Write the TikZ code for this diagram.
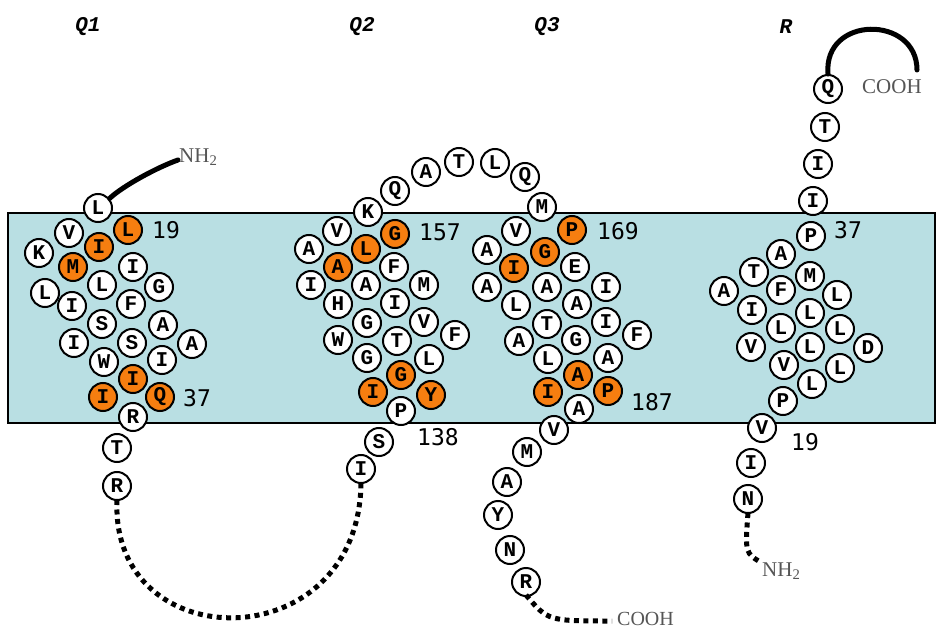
\documentclass[tikz,border=0pt]{standalone}
\usepackage{fontspec}
\newfontfamily\resfont{Liberation Mono}
\newfontfamily\numfont{DejaVu Sans Mono}
\newfontfamily\termfont{Liberation Serif}
\definecolor{membrane}{RGB}{185,223,227}
\definecolor{hilite}{RGB}{246,126,16}
\definecolor{termgray}{RGB}{85,85,85}
\tikzset{
  wres/.style={circle, draw=black, line width=2pt, fill=white, inner sep=0pt,
    minimum size=28pt, font=\resfont\bfseries\fontsize{21}{21}\selectfont},
  ores/.style={wres, fill=hilite},
  posnum/.style={font=\numfont\fontsize{23}{23}\selectfont, inner sep=0pt},
  helixname/.style={font=\resfont\bfseries\itshape\fontsize{21}{21}\selectfont, inner sep=0pt},
  termlabel/.style={font=\termfont\fontsize{21}{21}\selectfont, text=termgray, inner sep=0pt},
  tail/.style={line width=5pt, line cap=round},
  looseend/.style={line width=5pt, dash pattern=on 5pt off 4.5pt}
}
\begin{document}
\begin{tikzpicture}[x=1pt,y=-1pt]
\useasboundingbox (0,0) rectangle (937,631);
% lipid bilayer
\draw[fill=membrane, line width=2pt] (8,213) rectangle (935,423);

% helix names
\node[helixname] (nq1) at (88,27) {Q1};
\node[helixname] (nq2) at (362,27) {Q2};
\node[helixname] (nq3) at (547,27) {Q3};
\node[helixname] (nr) at (786,27) {R};

% subunit Q1
\foreach \x/\y/\t/\s [count=\i] in {
  98/208/L/wres, 128/230/L/ores, 69/233/V/wres, 99/247/I/ores, 39/253/K/wres,
  73/267/M/ores, 133/267/I/wres, 102/285/L/wres, 159/287/G/wres, 45/293/L/wres,
  72/306/I/wres, 131/304/F/wres, 102/324/S/wres, 163/325/A/wres, 132/343/S/wres,
  74/343/I/wres, 192/344/A/wres, 104/362/W/wres, 162/360/I/wres, 133/379/I/ores,
  103/397/I/ores, 160/397/Q/ores, 133/417/R/wres, 117/448/T/wres, 117/486/R/wres}
  \node[style=\s] (qa\i) at (\x,\y) {\t};

% subunit Q2 with the loop to Q3
\foreach \x/\y/\t/\s [count=\i] in {
  361/469/I/wres, 379/442/S/wres, 401/411/P/wres, 373/392/I/ores, 431/395/Y/ores,
  401/375/G/ores, 367/358/G/wres, 429/359/L/wres, 397/341/T/wres, 338/340/W/wres,
  455/335/F/wres, 367/323/G/wres, 424/322/V/wres, 338/304/H/wres, 395/303/I/wres,
  311/285/I/wres, 366/285/A/wres, 424/285/M/wres, 338/267/A/ores, 394/267/F/wres,
  309/249/A/wres, 366/249/L/ores, 337/231/V/wres, 395/234/G/ores, 368/212/K/wres,
  395/191/Q/wres, 426/172/A/wres, 459/162/T/wres, 495/163/L/wres, 525/177/Q/wres,
  542/207/M/wres}
  \node[style=\s] (qb\i) at (\x,\y) {\t};

% subunit Q3
\foreach \x/\y/\t/\s [count=\i] in {
  516/231/V/wres, 572/230/P/ores, 487/250/A/wres, 545/252/G/ores, 514/268/I/ores,
  575/267/E/wres, 487/287/A/wres, 547/287/A/wres, 606/287/I/wres, 516/305/L/wres,
  577/304/A/wres, 547/324/T/wres, 606/322/I/wres, 637/335/F/wres, 519/341/A/wres,
  576/340/G/wres, 548/359/L/wres, 608/358/A/wres, 578/375/A/ores, 548/392/I/ores,
  608/391/P/ores, 579/409/A/wres, 554/430/V/wres, 527/452/M/wres, 507/482/A/wres,
  498/515/Y/wres, 510/550/N/wres, 526/582/R/wres}
  \node[style=\s] (qc\i) at (\x,\y) {\t};

% subunit R
\foreach \x/\y/\t/\s [count=\i] in {
  828/89/Q/wres, 825/127/T/wres, 818/164/I/wres, 813/201/I/wres, 811/236/P/wres,
  781/254/A/wres, 754/272/T/wres, 810/276/M/wres, 724/291/A/wres, 781/290/F/wres,
  837/295/L/wres, 752/310/I/wres, 810/313/L/wres, 781/328/L/wres, 840/329/L/wres,
  751/347/V/wres, 810/347/L/wres, 868/348/D/wres, 784/365/V/wres, 840/368/L/wres,
  812/384/L/wres, 783/401/P/wres, 762/428/V/wres, 751/463/I/wres, 748/499/N/wres}
  \node[style=\s] (rr\i) at (\x,\y) {\t};

% residue numbers
\node[posnum] (n19a) at (166,230) {19};
\node[posnum] (n37a) at (197,398) {37};
\node[posnum] (n157) at (440,232) {157};
\node[posnum] (n138) at (438,437) {138};
\node[posnum] (n169) at (618,231) {169};
\node[posnum] (n187) at (652,402) {187};
\node[posnum] (n37r) at (848,230) {37};
\node[posnum] (n19r) at (805,442) {19};

% termini
\node[termlabel, anchor=west] (ntq1) at (179,157) {NH\textsubscript{2}};
\node[termlabel, anchor=west, font=\termfont\fontsize{20}{20}\selectfont] (ctq3) at (617,619) {COOH};
\node[termlabel, anchor=west] (ctr) at (862,87) {COOH};
\node[termlabel, anchor=west] (ntr) at (762,571) {NH\textsubscript{2}};

\coordinate (q1tip) at (178,160);
\coordinate (q3tip) at (612,621);
\coordinate (rctip) at (917,70);
\coordinate (rntip) at (762,563);

\draw[tail] ([shift={(1pt,-1pt)}]qa1.north east) .. controls +(14,-13) and (158,167) .. (q1tip);
\draw[tail] (rr1.north) .. controls (823,15) and (917,15) .. (rctip);
\draw[looseend] ([yshift=1pt]qa25.south) .. controls (110,660) and (360,660) .. ([yshift=2pt]qb1.south);
\draw[looseend] ([yshift=2pt]qc28.south) .. controls (548,621) .. (q3tip);
\draw[looseend] ([yshift=1pt]rr25.south) .. controls (745,553) .. (rntip);
\end{tikzpicture}
\end{document}
